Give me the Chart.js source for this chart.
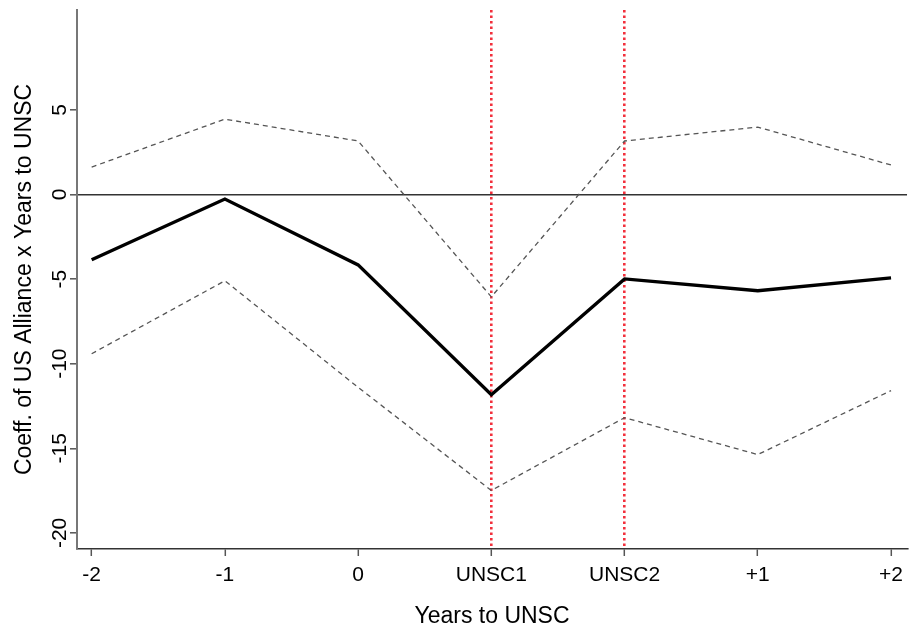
<!DOCTYPE html>
<html>
<head>
<meta charset="utf-8">
<script src="https://cdn.jsdelivr.net/npm/chart.js@4/dist/chart.umd.min.js"></script>
<style>
    html, body { margin: 0; padding: 0; background: #fff; }
    #wrap { width: 910px; height: 632px; }
</style>
</head>
<body>
<div id="wrap"><canvas id="chart" width="910" height="632"></canvas></div>
<script>
/* ==================== DATA ==================== */
const periods = ['-2', '-1', '0', 'UNSC1', 'UNSC2', '+1', '+2'];
const coefValues = [-3.86, -0.27, -4.16, -11.83, -4.99, -5.69, -4.93];
const upperCI = [1.62, 4.45, 3.16, -6.05, 3.16, 3.98, 1.74];
const lowerCI = [-9.41, -5.1, -11.4, -17.49, -13.19, -15.37, -11.59];
const yTickValues = [-20, -15, -10, -5, 0, 5];
const markedPeriods = ['UNSC1', 'UNSC2'];

const FONT = '"Liberation Sans", Arial, Helvetica, sans-serif';

const toPoints = (vals) => vals.map((v, i) => ({ x: i, y: v }));

/* ==================== Y AXIS TEXT (rotated) ==================== */
const yAxisText = {
    id: 'yAxisText',
    afterDraw(chart) {
        const { ctx, scales: { y }, chartArea } = chart;
        ctx.save();
        ctx.fillStyle = '#000';
        ctx.textAlign = 'center';
        ctx.textBaseline = 'alphabetic';
        ctx.font = '21px ' + FONT;
        yTickValues.forEach((v) => {
            ctx.save();
            ctx.translate(66, y.getPixelForValue(v));
            ctx.rotate(-Math.PI / 2);
            ctx.fillText(String(v), 0, 0);
            ctx.restore();
        });
        ctx.font = '23px ' + FONT;
        ctx.translate(31, (chartArea.top + chartArea.bottom) / 2);
        ctx.rotate(-Math.PI / 2);
        ctx.fillText('Coeff. of US Alliance x Years to UNSC', 0, 0);
        ctx.restore();
    }
};

/* ==================== CHART ==================== */
const ciStyle = {
    borderColor: '#555',
    borderWidth: 1.3,
    borderDash: [5, 4],
    pointRadius: 0,
    fill: false,
    tension: 0,
};

new Chart(document.getElementById('chart'), {
    type: 'line',
    data: {
        datasets: [
            { label: 'Coefficient', data: toPoints(coefValues), borderColor: '#000', borderWidth: 3.4, pointRadius: 0, tension: 0, fill: false },
            { label: 'Upper 95% CI', data: toPoints(upperCI), ...ciStyle },
            { label: 'Lower 95% CI', data: toPoints(lowerCI), ...ciStyle },
        ],
    },
    options: {
        responsive: false,
        animation: false,
        layout: { padding: { top: 10, right: 0, left: 0, bottom: 0 } },
        plugins: { legend: { display: false }, tooltip: { enabled: false } },
        scales: {
            x: {
                type: 'linear',
                min: -0.11,
                max: 6.12,
                z: 1,
                afterBuildTicks: (scale) => { scale.ticks = periods.map((_, i) => ({ value: i })); },
                afterFit: (scale) => { scale.height = 83; },
                ticks: {
                    autoSkip: false,
                    maxRotation: 0,
                    color: '#000',
                    font: { family: FONT, size: 21 },
                    padding: 7,
                    callback: (v) => periods[v],
                },
                grid: {
                    color: (c) => (c.tick && markedPeriods.includes(periods[c.tick.value]) ? '#f2303c' : 'rgba(0,0,0,0)'),
                    lineWidth: 2.6,
                    tickColor: '#555',
                    tickWidth: 1.5,
                    tickLength: 7,
                    tickBorderDash: [],
                },
                border: { display: true, color: '#333', width: 1.5, dash: [2.5, 3] },
                title: {
                    display: true,
                    text: 'Years to UNSC',
                    color: '#000',
                    font: { family: FONT, size: 23 },
                    padding: { top: 0, bottom: 2 },
                },
            },
            y: {
                type: 'linear',
                min: -20.95,
                max: 10.9,
                afterBuildTicks: (scale) => { scale.ticks = yTickValues.map((v) => ({ value: v })); },
                afterFit: (scale) => { scale.width = 77; },
                ticks: { display: false },
                grid: {
                    color: (c) => (c.tick && c.tick.value === 0 ? '#333' : 'rgba(0,0,0,0)'),
                    lineWidth: 1.6,
                    tickColor: '#555',
                    tickWidth: 1.5,
                    tickLength: 7,
                },
                border: { display: true, color: '#777', width: 2 },
            },
        },
    },
    plugins: [yAxisText],
});
</script>
</body>
</html>
